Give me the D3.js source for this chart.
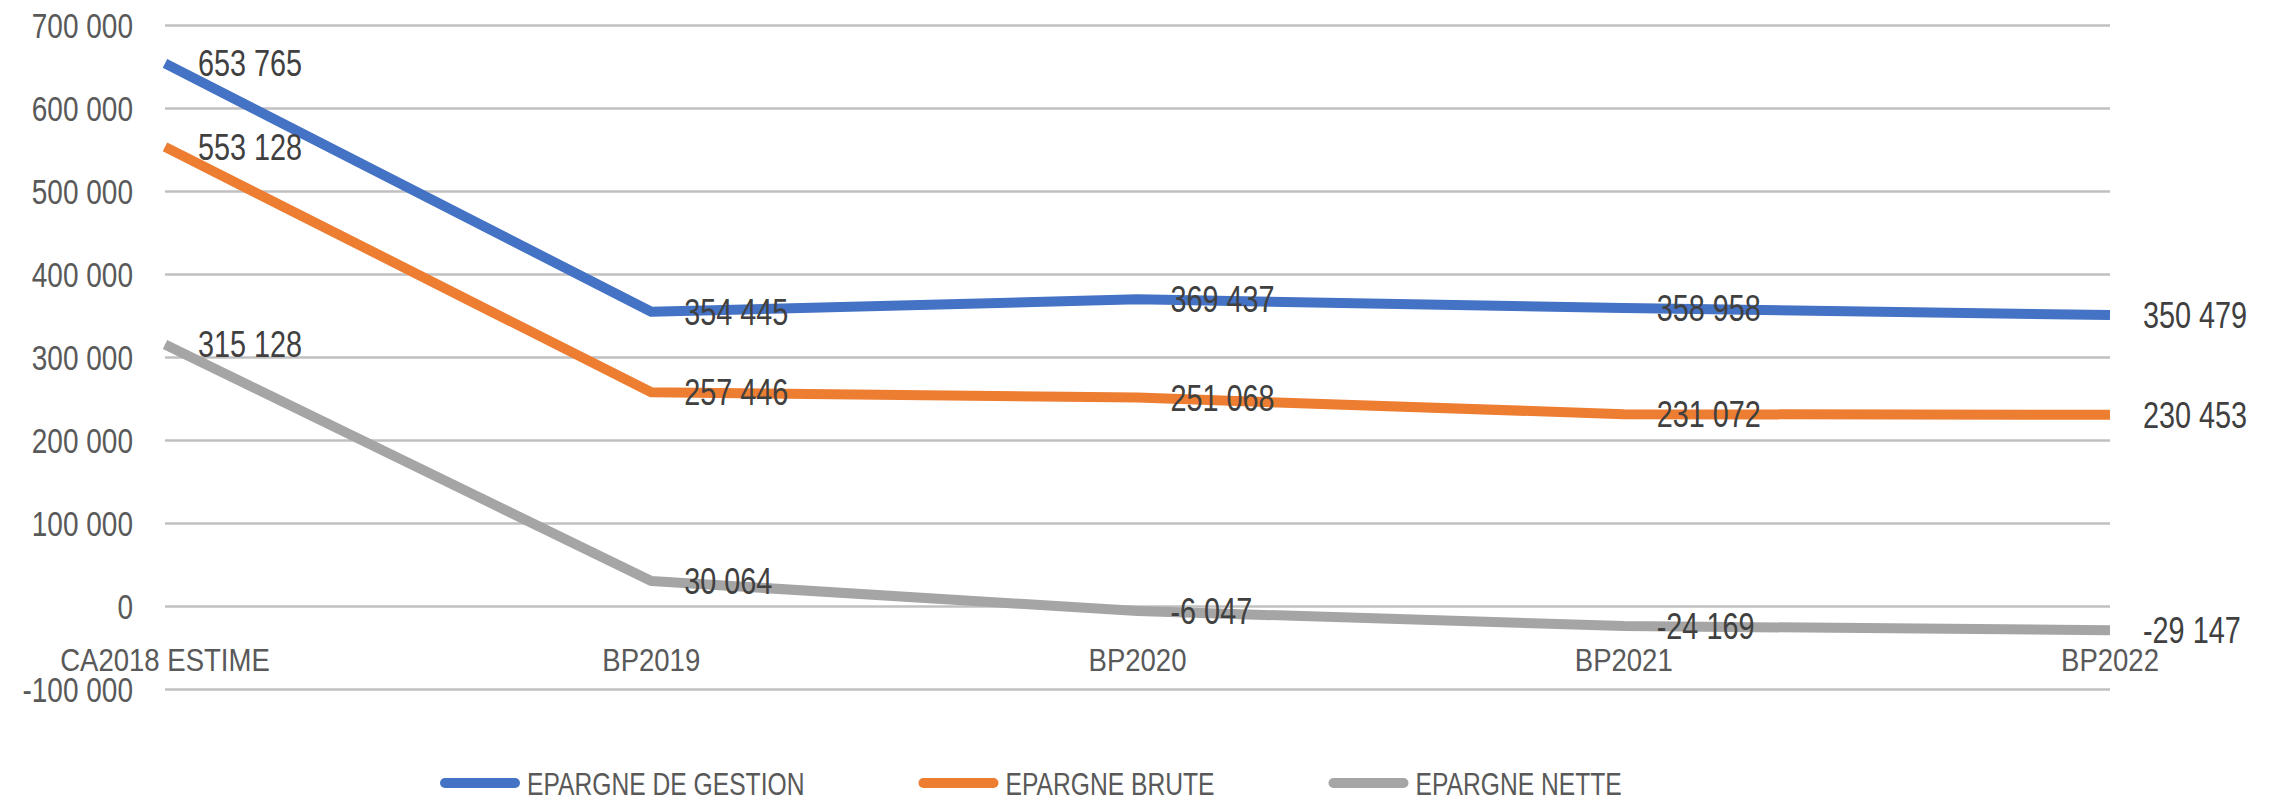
<!DOCTYPE html>
<html>
<head>
<meta charset="utf-8">
<style>
  body { margin: 0; background: #fff; }
  #epargne text { font-family: "Liberation Sans", Arial, sans-serif; }
</style>
</head>
<body>
<div id="epargne"></div>
<script src="https://d3js.org/d3.v7.min.js"></script>
<script>
var categories = ["CA2018 ESTIME", "BP2019", "BP2020", "BP2021", "BP2022"];
var gestion = [653765, 354445, 369437, 358958, 350479];
var brute = [553128, 257446, 251068, 231072, 230453];
var nette = [315128, 30064, -6047, -24169, -29147];
var seriesNames = ["EPARGNE DE GESTION", "EPARGNE BRUTE", "EPARGNE NETTE"];
var yTicks = [-100000, 0, 100000, 200000, 300000, 400000, 500000, 600000, 700000];

// the original font is a narrow one, squeeze the glyphs horizontally
function squeeze(sel, k) {
  sel.each(function() {
    var w = this.getComputedTextLength();
    d3.select(this)
        .attr("textLength", w * k)
        .attr("lengthAdjust", "spacingAndGlyphs");
  });
}

function epargne_chart() {
  var width = 2285, height = 800;
  var colors = ["#4472c4", "#ed7d31", "#a5a5a5"];
  var narrow = 0.8;

  var series = [gestion, brute, nette].map(function(vals, i) {
    return { name: seriesNames[i], color: colors[i], values: vals };
  });

  var svg = d3.select("#epargne").append("svg")
      .attr("width", width)
      .attr("height", height);

  var x = d3.scalePoint()
      .domain(categories)
      .range([165, 2110])
      .padding(0);

  var y = d3.scaleLinear()
      .domain([-100000, 700000])
      .range([689, 25]);

  // thousands with a space, as in french, plain hyphen for minus
  var fmt = function(v) {
    return d3.format(",")(v).replace(/,/g, " ").replace("\u2212", "-");
  };

  // gridlines + tick labels
  var yAxis = svg.append("g")
      .attr("transform", "translate(165,0)")
      .call(d3.axisLeft(y).tickValues(yTicks).tickSize(-(2110 - 165)).tickPadding(32).tickFormat(fmt));
  yAxis.select(".domain").remove();
  yAxis.selectAll(".tick line")
      .attr("stroke", "#c0c0c0")
      .attr("stroke-width", 2.5);
  yAxis.selectAll(".tick text")
      .attr("fill", "#595959")
      .attr("dy", "0.36em")
      .style("font-size", "35px");
  squeeze(yAxis.selectAll(".tick text"), narrow);

  // category labels, under the zero line
  var cats = svg.append("g")
    .selectAll("text")
    .data(categories)
    .enter().append("text")
      .attr("x", function(d) { return x(d); })
      .attr("y", 659)
      .attr("dy", "0.36em")
      .attr("text-anchor", "middle")
      .attr("fill", "#595959")
      .style("font-size", "32px")
      .text(function(d) { return d; });
  squeeze(cats, 0.86);

  var line = d3.line()
      .x(function(d, i) { return x(categories[i]); })
      .y(function(d) { return y(d); });

  svg.append("g")
    .selectAll("path")
    .data(series)
    .enter().append("path")
      .attr("d", function(d) { return line(d.values); })
      .attr("fill", "none")
      .attr("stroke", function(d) { return d.color; })
      .attr("stroke-width", 10)
      .attr("stroke-linejoin", "round");

  // data labels to the right of each point
  var labels = svg.append("g")
    .selectAll("g")
    .data(series)
    .enter().append("g")
    .selectAll("text")
    .data(function(d) { return d.values; })
    .enter().append("text")
      .attr("x", function(d, i) { return x(categories[i]) + 33; })
      .attr("y", function(d) { return y(d); })
      .attr("dy", "0.36em")
      .attr("fill", "#404040")
      .style("font-size", "36px")
      .text(function(d) { return fmt(d); });
  squeeze(labels, narrow);

  // legend
  var legend = svg.append("g");
  var lx = 440;
  series.forEach(function(s) {
    var item = legend.append("g").attr("transform", "translate(" + lx + ",783)");
    item.append("line")
        .attr("x1", 5).attr("x2", 75)
        .attr("stroke", s.color)
        .attr("stroke-width", 10)
        .attr("stroke-linecap", "round");
    var t = item.append("text")
        .attr("x", 87)
        .attr("dy", "0.36em")
        .attr("fill", "#595959")
        .style("font-size", "32px")
        .text(s.name);
    var w = t.node().getComputedTextLength() * 0.77;
    t.attr("textLength", w).attr("lengthAdjust", "spacingAndGlyphs");
    lx += 87 + w + 114;
  });
}

epargne_chart();
</script>
</body>
</html>
